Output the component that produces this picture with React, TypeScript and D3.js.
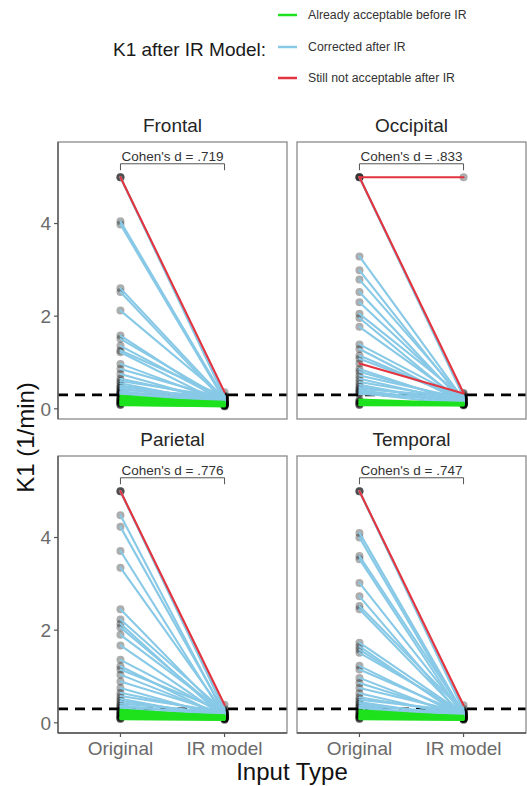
import { useRef, useEffect } from 'react';
import * as d3 from 'd3';

/* ── Data ─────────────────────────────────────────────── */
const INPUT_TYPES = ["Original", "IR model"];
const REGIONS = ["Frontal", "Occipital", "Parietal", "Temporal"];
const COHENS_D = [".719", ".833", ".776", ".747"];
const Y_TICKS = [0, 2, 4];
const THRESHOLD = 0.3;

const GROUP_KEYS = ["A", "C", "S"];
const GROUP_LABELS = ["Already acceptable before IR", "Corrected after IR", "Still not acceptable after IR"];

// S = still not acceptable, C = corrected, A = already acceptable
const frontalOriginal = [5, 5, 5, 4.05, 3.98, 2.6, 2.52, 2.12, 1.58, 1.51, 1.36, 1.26, 1.22, 0.97, 0.86, 0.75, 0.65, 0.6, 0.55, 0.5, 0.47, 0.44, 0.41, 0.38, 0.36, 0.34, 0.33, 0.31, 0.28, 0.25, 0.23, 0.21, 0.2, 0.18, 0.17, 0.15, 0.14, 0.13, 0.12, 0.1, 0.09, 0.08];
const frontalIR = [0.36, 0.28, 0.25, 0.22, 0.18, 0.2, 0.15, 0.24, 0.12, 0.2, 0.17, 0.26, 0.1, 0.14, 0.22, 0.12, 0.18, 0.25, 0.11, 0.16, 0.2, 0.13, 0.27, 0.15, 0.09, 0.19, 0.12, 0.23, 0.12, 0.09, 0.15, 0.08, 0.11, 0.07, 0.13, 0.1, 0.06, 0.09, 0.08, 0.07, 0.05, 0.06];
const frontalGroup = "S" + "CCCCCCCCCCCCCCCCCCCCCCCCCCC" + "AAAAAAAAAAAAAA";

const occipitalOriginal = [5, 5, 0.98, 5, 5, 3.29, 2.99, 2.79, 2.52, 2.3, 2.05, 1.96, 1.77, 1.39, 1.29, 1.15, 1.08, 0.86, 0.8, 0.72, 0.65, 0.58, 0.52, 0.47, 0.43, 0.4, 0.37, 0.34, 0.32, 0.2, 0.17, 0.15, 0.14, 0.12, 0.1, 0.09, 0.08];
const occipitalIR = [5, 0.34, 0.33, 0.26, 0.29, 0.2, 0.15, 0.22, 0.12, 0.18, 0.25, 0.1, 0.16, 0.21, 0.13, 0.19, 0.24, 0.11, 0.17, 0.22, 0.14, 0.2, 0.1, 0.16, 0.25, 0.12, 0.18, 0.09, 0.21, 0.12, 0.1, 0.13, 0.09, 0.11, 0.08, 0.1, 0.07];
const occipitalGroup = "SSS" + "CCCCCCCCCCCCCCCCCCCCCCCCCC" + "AAAAAAAA";

const parietalOriginal = [5, 5, 5, 4.48, 4.23, 3.71, 3.35, 2.45, 2.23, 2.14, 2.06, 1.9, 1.67, 1.36, 1.22, 1.15, 1.04, 0.89, 0.75, 0.65, 0.58, 0.52, 0.47, 0.42, 0.38, 0.35, 0.32, 0.28, 0.26, 0.24, 0.22, 0.2, 0.19, 0.17, 0.15, 0.14, 0.12, 0.11, 0.1, 0.09, 0.08];
const parietalIR = [0.39, 0.3, 0.27, 0.18, 0.22, 0.12, 0.2, 0.15, 0.24, 0.1, 0.17, 0.21, 0.13, 0.19, 0.11, 0.25, 0.15, 0.2, 0.12, 0.18, 0.23, 0.1, 0.16, 0.21, 0.13, 0.19, 0.11, 0.14, 0.1, 0.16, 0.12, 0.09, 0.15, 0.11, 0.08, 0.13, 0.1, 0.07, 0.12, 0.09, 0.06];
const parietalGroup = "S" + "CCCCCCCCCCCCCCCCCCCCCCCCCC" + "AAAAAAAAAAAAAA";

const temporalOriginal = [5, 5, 5, 4.1, 4.0, 3.6, 3.53, 3.02, 2.73, 2.52, 2.45, 1.73, 1.65, 1.58, 1.51, 1.23, 1.15, 0.97, 0.86, 0.75, 0.64, 0.55, 0.5, 0.45, 0.41, 0.37, 0.34, 0.32, 0.27, 0.25, 0.22, 0.2, 0.18, 0.16, 0.15, 0.13, 0.12, 0.1, 0.09, 0.08];
const temporalIR = [0.38, 0.3, 0.26, 0.2, 0.15, 0.22, 0.12, 0.18, 0.1, 0.24, 0.14, 0.2, 0.11, 0.17, 0.23, 0.13, 0.19, 0.1, 0.16, 0.22, 0.12, 0.18, 0.25, 0.11, 0.16, 0.2, 0.13, 0.09, 0.13, 0.1, 0.15, 0.11, 0.08, 0.12, 0.09, 0.11, 0.07, 0.1, 0.08, 0.06];
const temporalGroup = "S" + "CCCCCCCCCCCCCCCCCCCCCCCCCCC" + "AAAAAAAAAAAA";

/* ── Styling ──────────────────────────────────────────── */
const COLORS: Record<string, string> = { A: "#1de21d", C: "#87c9e6", S: "#e3343f" };
const FONT = "'Liberation Sans', Arial, Helvetica, sans-serif";

type Pair = { orig: number; ir: number; group: string };

function buildPairs(orig: number[], ir: number[], groups: string): Pair[] {
  return orig.map((o, i) => ({ orig: o, ir: ir[i], group: groups[i] }));
}

const PANEL_DATA = [
  buildPairs(frontalOriginal, frontalIR, frontalGroup),
  buildPairs(occipitalOriginal, occipitalIR, occipitalGroup),
  buildPairs(parietalOriginal, parietalIR, parietalGroup),
  buildPairs(temporalOriginal, temporalIR, temporalGroup),
];

export default function App() {
  const svgRef = useRef<SVGSVGElement>(null);

  useEffect(() => {
    const svg = d3.select(svgRef.current);
    svg.selectAll("*").remove();

    const W = 527, H = 786;
    const panelW = 229, panelH = 277;
    const panelPos = [
      { x: 58, y: 142 }, { x: 297, y: 142 },
      { x: 58, y: 456 }, { x: 297, y: 456 },
    ];

    svg.attr("width", W).attr("height", H).style("font-family", FONT);
    svg.append("rect").attr("width", W).attr("height", H).attr("fill", "#fff");

    const x = d3.scalePoint<string>().domain(INPUT_TYPES).range([0, panelW]).padding(0.6);
    const y = d3.scaleLinear().domain([-0.22, 5.76]).range([panelH, 0]);

    PANEL_DATA.forEach((pairs, pi) => {
      const pos = panelPos[pi];
      const g = svg.append("g").attr("transform", `translate(${pos.x},${pos.y})`);

      // strip title
      g.append("text")
        .attr("x", panelW / 2).attr("y", -10)
        .attr("text-anchor", "middle")
        .style("font-size", "19px").style("fill", "#262626")
        .text(REGIONS[pi]);

      const clipId = `clip-${pi}`;
      g.append("clipPath").attr("id", clipId)
        .append("rect").attr("width", panelW).attr("height", panelH);

      const body = g.append("g").attr("clip-path", `url(#${clipId})`);

      // threshold
      body.append("line")
        .attr("x1", 0).attr("x2", panelW)
        .attr("y1", y(THRESHOLD)).attr("y2", y(THRESHOLD))
        .attr("stroke", "#000").attr("stroke-width", 2.6)
        .attr("stroke-dasharray", "10,7");

      // points (under lines)
      const pts = pairs.flatMap(p => [
        { cx: x(INPUT_TYPES[0])!, v: p.orig },
        { cx: x(INPUT_TYPES[1])!, v: p.ir },
      ]);
      body.selectAll("circle.pt").data(pts).enter()
        .append("circle").attr("class", "pt")
        .attr("cx", d => d.cx).attr("cy", d => y(d.v))
        .attr("r", 4)
        .attr("fill", "#000").attr("fill-opacity", 0.32);

      // lines: corrected, then already acceptable, then still not acceptable
      ["C", "A", "S"].forEach(key => {
        body.selectAll(`line.l${key}`)
          .data(pairs.filter(p => p.group === key)).enter()
          .append("line").attr("class", `l${key}`)
          .attr("x1", x(INPUT_TYPES[0])!).attr("x2", x(INPUT_TYPES[1])!)
          .attr("y1", d => y(d.orig)).attr("y2", d => y(d.ir))
          .attr("stroke", COLORS[key]).attr("stroke-width", 2.1)
          .attr("stroke-linecap", "round");
      });

      // Cohen's d bracket
      const bx1 = x(INPUT_TYPES[0])!, bx2 = x(INPUT_TYPES[1])!;
      g.append("path")
        .attr("d", `M${bx1},${y(5.15)}V${y(5.29)}H${bx2}V${y(5.15)}`)
        .attr("fill", "none").attr("stroke", "#555").attr("stroke-width", 1);
      g.append("text")
        .attr("x", (bx1 + bx2) / 2).attr("y", y(5.36))
        .attr("text-anchor", "middle")
        .style("font-size", "13.5px").style("fill", "#333")
        .text(`Cohen's d = ${COHENS_D[pi]}`);

      // panel border
      g.append("rect")
        .attr("width", panelW).attr("height", panelH)
        .attr("fill", "none").attr("stroke", "#8a8a8a").attr("stroke-width", 1.3);

      // y axis on left column
      if (pi % 2 === 0) {
        g.append("line").attr("x1", 0).attr("x2", 0).attr("y1", 0).attr("y2", panelH)
          .attr("stroke", "#555").attr("stroke-width", 1.3);
        Y_TICKS.forEach(t => {
          g.append("line").attr("x1", -4).attr("x2", 0)
            .attr("y1", y(t)).attr("y2", y(t))
            .attr("stroke", "#555").attr("stroke-width", 1.2);
          g.append("text")
            .attr("x", -7).attr("y", y(t)).attr("dy", "0.36em")
            .attr("text-anchor", "end")
            .style("font-size", "19px").style("fill", "#6a6a6a")
            .text(t);
        });
      }

      // x axis on bottom row
      if (pi >= 2) {
        g.append("line").attr("x1", 0).attr("x2", panelW).attr("y1", panelH).attr("y2", panelH)
          .attr("stroke", "#555").attr("stroke-width", 1.3);
        INPUT_TYPES.forEach(t => {
          g.append("line").attr("x1", x(t)!).attr("x2", x(t)!)
            .attr("y1", panelH).attr("y2", panelH + 4)
            .attr("stroke", "#555").attr("stroke-width", 1.2);
          g.append("text")
            .attr("x", x(t)!).attr("y", panelH + 22)
            .attr("text-anchor", "middle")
            .style("font-size", "19px").style("fill", "#6a6a6a")
            .text(t);
        });
      }
    });

    // axis titles
    svg.append("text")
      .attr("transform", `translate(34,${(142 + 733) / 2}) rotate(-90)`)
      .attr("text-anchor", "middle")
      .style("font-size", "24px").style("fill", "#111")
      .text("K1 (1/min)");
    svg.append("text")
      .attr("x", (58 + 526) / 2).attr("y", 780)
      .attr("text-anchor", "middle")
      .style("font-size", "24px").style("fill", "#111")
      .text("Input Type");

    // legend
    svg.append("text")
      .attr("x", 113).attr("y", 56)
      .style("font-size", "19px").style("fill", "#1a1a1a")
      .text("K1 after IR Model:");
    const legendY = [15, 47, 78];
    GROUP_KEYS.forEach((k, i) => {
      svg.append("line")
        .attr("x1", 278).attr("x2", 297)
        .attr("y1", legendY[i]).attr("y2", legendY[i])
        .attr("stroke", COLORS[k]).attr("stroke-width", 2.5);
      svg.append("text")
        .attr("x", 308).attr("y", legendY[i]).attr("dy", "0.36em")
        .style("font-size", "12.3px").style("fill", "#333")
        .text(GROUP_LABELS[i]);
    });
  }, []);

  return (
    <svg ref={svgRef} style={{ position: "absolute", left: 0, top: 0 }}></svg>
  );
}
